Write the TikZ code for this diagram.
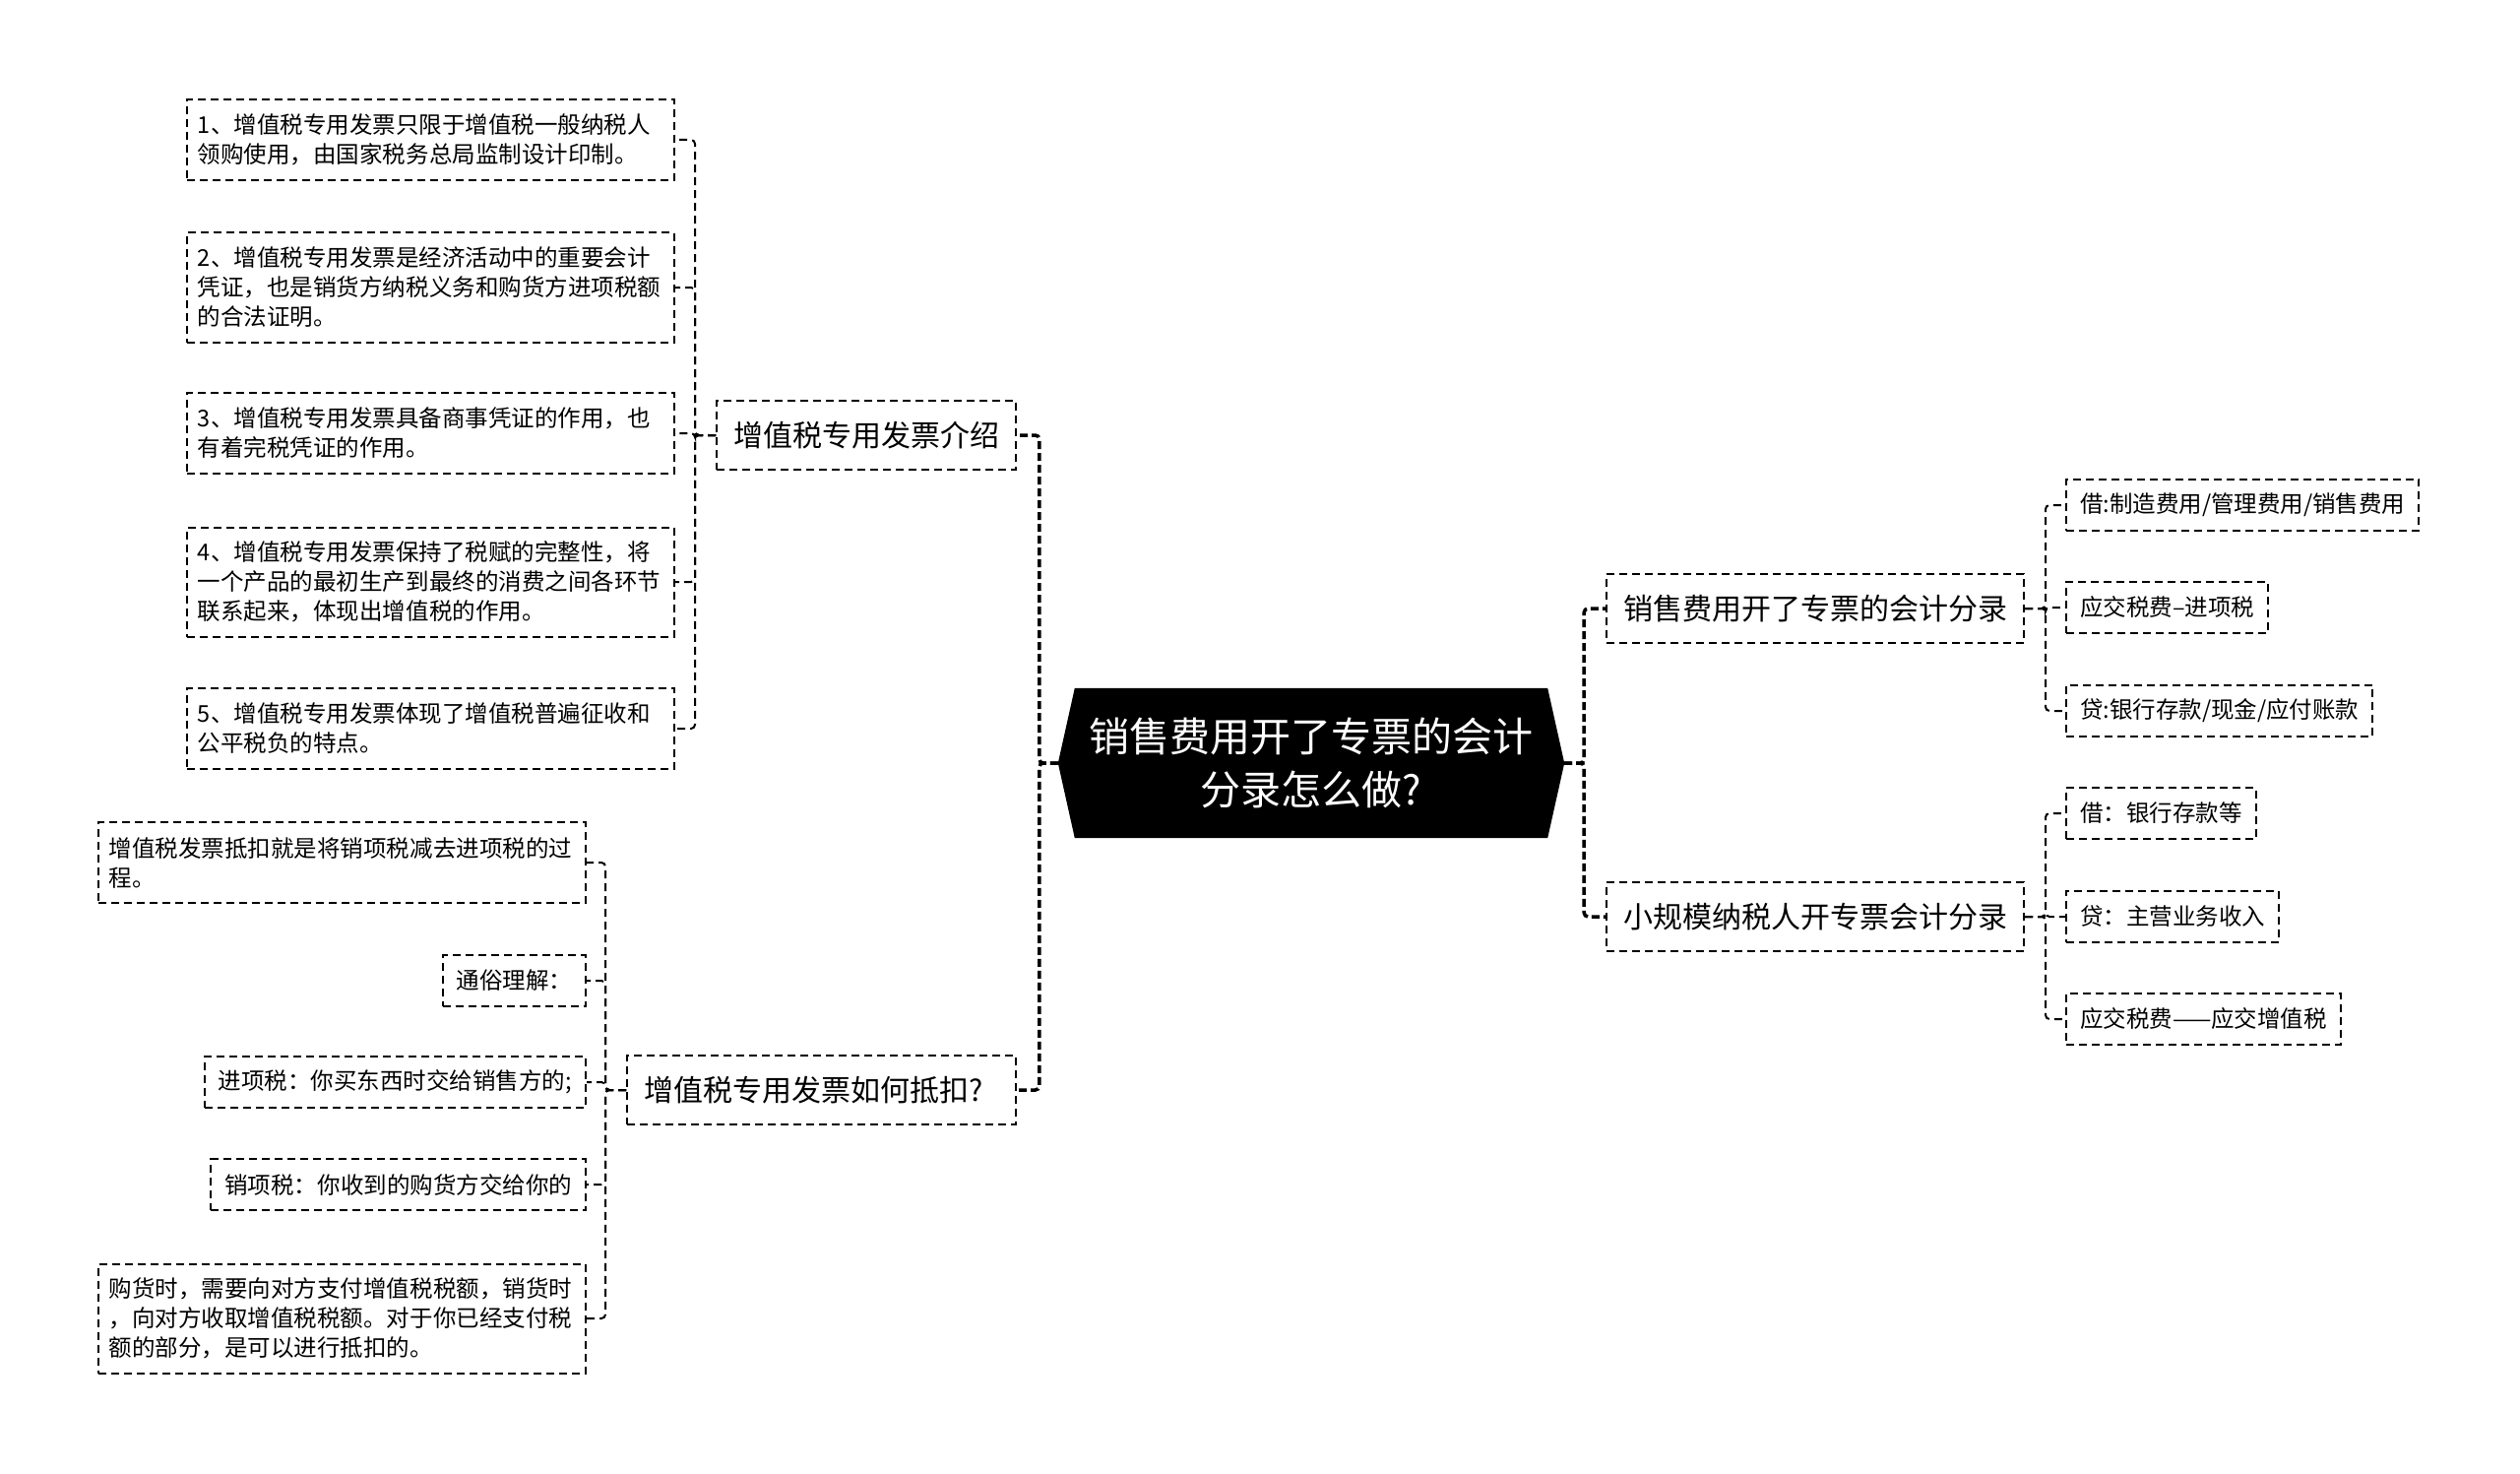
\documentclass[tikz,border=0pt]{standalone}
\usepackage{fontspec}
\setmainfont{Noto Sans CJK SC}
\usetikzlibrary{backgrounds}
\begin{document}
\begin{tikzpicture}[x=1bp,y=-1bp,
  box/.style={draw=black, line width=2bp, dash pattern=on 8bp off 5bp, text=black},
  leaf/.style={box, font=\fontsize{23.5bp}{30bp}\selectfont, inner xsep=14bp, inner ysep=4bp, minimum height=52bp},
  wide/.style={leaf, text width=473bp, inner xsep=11bp, align=left},
  lone/.style={box, font=\fontsize{30bp}{36bp}\selectfont, inner xsep=17bp, inner ysep=4bp, minimum height=70bp},
  conn/.style={draw=black, line width=2bp, dash pattern=on 8bp off 5bp, rounded corners=4bp},
  trunk/.style={draw=black, line width=3.5bp, dash pattern=on 8bp off 4bp, rounded corners=4bp},
  roottext/.style={text=white, font=\fontsize{41bp}{54bp}\selectfont, align=center, minimum width=514bp, minimum height=152bp, inner sep=0pt}
]
\useasboundingbox (0,0) rectangle (2560,1497);

% root
\node[roottext] (root) at (1332,775) {销售费用开了专票的会计\\分录怎么做?};
\begin{scope}[on background layer]
\fill[black] (root.west) -- ([xshift=17bp]root.north west) -- ([xshift=-17bp]root.north east) -- (root.east) -- ([xshift=-17bp]root.south east) -- ([xshift=17bp]root.south west) -- cycle;
\end{scope}

% level 1
\node[lone, anchor=east] (l1) at (1033,442) {增值税专用发票介绍};
\node[lone, anchor=east, text width=361bp, align=left] (l2) at (1033,1107) {增值税专用发票如何抵扣?};
\node[lone, anchor=west] (r1) at (1631,618) {销售费用开了专票的会计分录};
\node[lone, anchor=west] (r2) at (1631,931) {小规模纳税人开专票会计分录};

% left children of l1
\node[wide, anchor=east, minimum height=82bp] (a1) at (686,142) {1、增值税专用发票只限于增值税一般纳税人\\领购使用，由国家税务总局监制设计印制。};
\node[wide, anchor=east, minimum height=111bp] (a2) at (686,292) {2、增值税专用发票是经济活动中的重要会计\\凭证，也是销货方纳税义务和购货方进项税额\\的合法证明。};
\node[wide, anchor=east, minimum height=82bp] (a3) at (686,440) {3、增值税专用发票具备商事凭证的作用，也\\有着完税凭证的作用。};
\node[wide, anchor=east, minimum height=111bp] (a4) at (686,591) {4、增值税专用发票保持了税赋的完整性，将\\一个产品的最初生产到最终的消费之间各环节\\联系起来，体现出增值税的作用。};
\node[wide, anchor=east, minimum height=82bp] (a5) at (686,740) {5、增值税专用发票体现了增值税普遍征收和\\公平税负的特点。};

% left children of l2
\node[wide, anchor=east, minimum height=82bp] (b1) at (596,876) {增值税发票抵扣就是将销项税减去进项税的过\\程。};
\node[leaf, anchor=east] (b2) at (596,996) {通俗理解：};
\node[leaf, anchor=east] (b3) at (596,1099) {进项税：你买东西时交给销售方的;};
\node[leaf, anchor=east] (b4) at (596,1203) {销项税：你收到的购货方交给你的};
\node[wide, anchor=east, minimum height=111bp] (b5) at (596,1339) {购货时，需要向对方支付增值税税额，销货时\\，向对方收取增值税税额。对于你已经支付税\\额的部分，是可以进行抵扣的。};

% right children
\node[leaf, anchor=west] (c1) at (2098,513) {借:制造费用/管理费用/销售费用};
\node[leaf, anchor=west] (c2) at (2098,617) {应交税费–进项税};
\node[leaf, anchor=west] (c3) at (2098,722) {贷:银行存款/现金/应付账款};
\node[leaf, anchor=west] (d1) at (2098,826) {借：银行存款等};
\node[leaf, anchor=west] (d2) at (2098,931) {贷：主营业务收入};
\node[leaf, anchor=west] (d3) at (2098,1035) {应交税费——应交增值税};

% connectors root
\draw[trunk] (root.west) -- ++(-19,0) |- (l1.east);
\draw[trunk] (root.west) -- ++(-19,0) |- (l2.east);
\draw[trunk] (root.east) -- ++(20,0) |- (r1.west);
\draw[trunk] (root.east) -- ++(20,0) |- (r2.west);

% connectors to leaves
\foreach \n in {a1,a2,a3,a4,a5} \draw[conn] (l1.west) -- ++(-21,0) |- (\n.east);
\foreach \n in {b1,b2,b3,b4,b5} \draw[conn] (l2.west) -- ++(-21,0) |- (\n.east);
\foreach \n in {c1,c2,c3} \draw[conn] (r1.east) -- ++(21,0) |- (\n.west);
\foreach \n in {d1,d2,d3} \draw[conn] (r2.east) -- ++(21,0) |- (\n.west);
\end{tikzpicture}
\end{document}
